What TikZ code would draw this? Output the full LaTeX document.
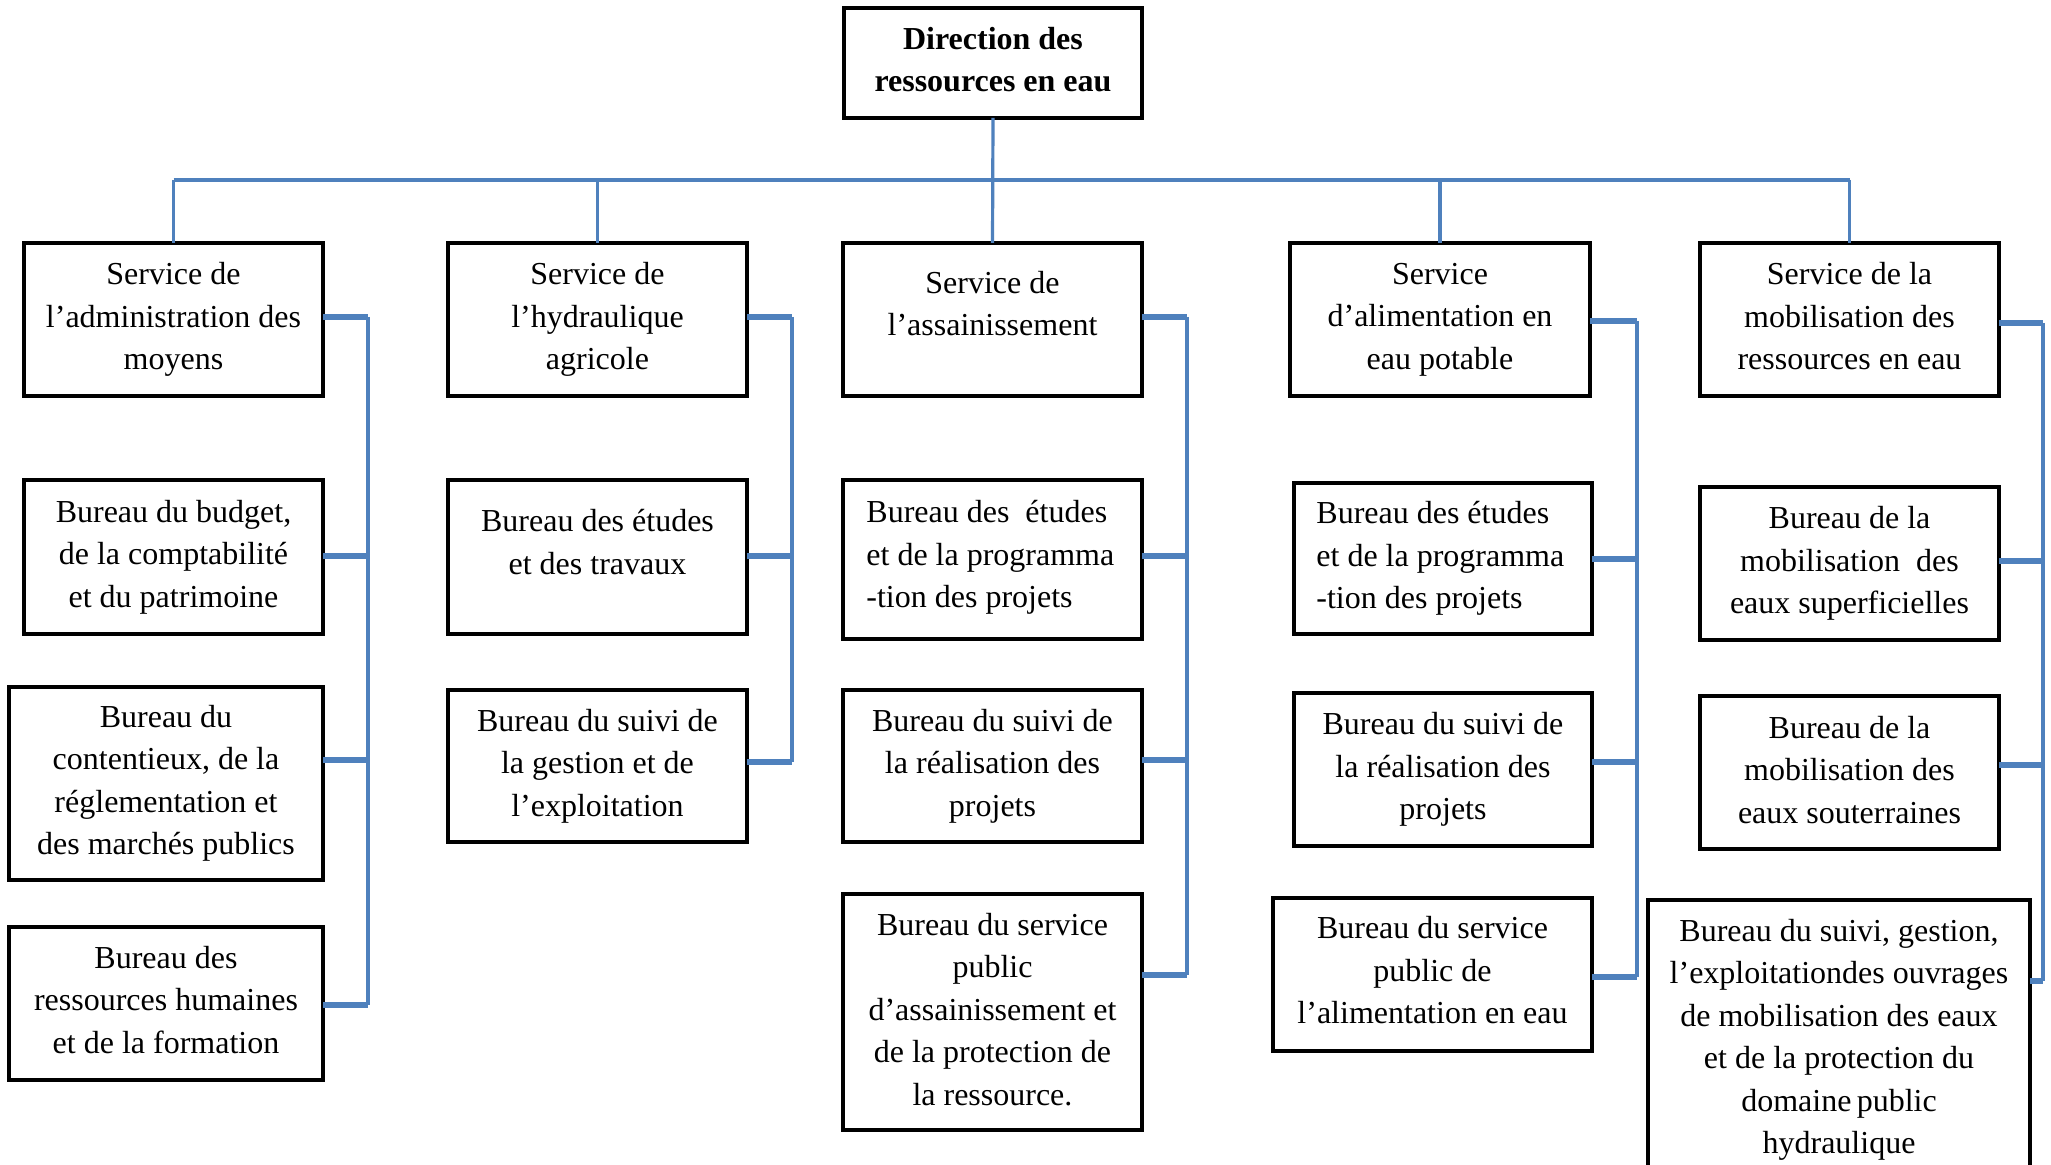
\documentclass[tikz,border=0pt]{standalone}
\usepackage{fontspec}
\setmainfont{Liberation Serif}
\definecolor{lineblue}{RGB}{79,129,189}
\newcommand{\orgbox}[5]{\node[obox, minimum width={((#4)-(#2))*0.5pt}, minimum height={((#5)-(#3))*0.5pt}] (#1) at ({((#2)+(#4))/2},{((#3)+(#5))/2}) {};}
\tikzset{
  obox/.style={draw=black, line width=1.9pt, rectangle, inner sep=0pt, outer sep=0pt},
  otext/.style={align=center, inner sep=0pt, font=\fontsize{16pt}{21.25pt}\selectfont},
  bus/.style={draw=lineblue, line width=1.6pt},
  stub/.style={draw=lineblue, line width=2.6pt},
}
\begin{document}
\begin{tikzpicture}[x=0.5pt,y=-0.5pt]
\useasboundingbox (0,0) rectangle (2051,1165);
\fill[white] (0,0) rectangle (2051,1165);
\clip (0,0) rectangle (2051,1165);
% boxes
\orgbox{top}{844}{8}{1142}{118}
\orgbox{s1}{24}{243}{323}{396}
\orgbox{s2}{448}{243}{747}{396}
\orgbox{s3}{843}{243}{1142}{396}
\orgbox{s4}{1290}{243}{1590}{396}
\orgbox{s5}{1700}{243}{1999}{396}
\orgbox{a1}{24}{480}{323}{634}
\orgbox{a2}{9}{687}{323}{880}
\orgbox{a3}{9}{927}{323}{1080}
\orgbox{b1}{448}{480}{747}{634}
\orgbox{b2}{448}{690}{747}{842}
\orgbox{c1}{843}{480}{1142}{639}
\orgbox{c2}{843}{690}{1142}{842}
\orgbox{c3}{843}{894}{1142}{1130}
\orgbox{d1}{1294}{483}{1592}{634}
\orgbox{d2}{1294}{693}{1592}{846}
\orgbox{d3}{1273}{898}{1592}{1051}
\orgbox{e1}{1700}{487}{1999}{640}
\orgbox{e2}{1700}{696}{1999}{849}
\orgbox{e3}{1648}{900}{2030}{1210}
% texts
\node[otext, font=\fontsize{16pt}{21pt}\selectfont\bfseries, yshift=1.5pt] (topt) at (top) {Direction des\\ressources en eau};
\node[otext] (s1t) at (s1) {Service de\\l’administration des\\moyens};
\node[otext] (s2t) at (s2) {Service de\\l’hydraulique\\agricole};
\node[otext, yshift=8pt] (s3t) at (s3) {Service de\\l’assainissement};
\node[otext] (s4t) at (s4) {Service\\d’alimentation en\\eau potable};
\node[otext, yshift=1.5pt] (s5t) at (s5) {Service de la\\mobilisation des\\ressources en eau};
\node[otext] (a1t) at (a1) {Bureau du budget,\\de la comptabilité\\et du patrimoine};
\node[otext] (a2t) at (a2) {Bureau du\\contentieux, de la\\réglementation et\\des marchés publics};
\node[otext, yshift=1.8pt] (a3t) at (a3) {Bureau des\\ressources humaines\\et de la formation};
\node[otext, yshift=7.5pt] (b1t) at (b1) {Bureau des études\\et des travaux};
\node[otext] (b2t) at (b2) {Bureau du suivi de\\la gestion et de\\l’exploitation};
\node[otext, align=left, anchor=west, yshift=1pt] (c1t) at ([xshift=11.5pt]c1.west) {Bureau des\ \ études\\et de la programma\\-tion des projets};
\node[otext] (c2t) at (c2) {Bureau du suivi de\\la réalisation des\\projets};
\node[otext, yshift=1.2pt] (c3t) at (c3) {Bureau du service\\public\\d’assainissement et\\de la protection de\\la ressource.};
\node[otext, align=left, anchor=west] (d1t) at ([xshift=11pt]d1.west) {Bureau des études\\et de la programma\\-tion des projets};
\node[otext] (d2t) at (d2) {Bureau du suivi de\\la réalisation des\\projets};
\node[otext, yshift=2pt] (d3t) at (d3) {Bureau du service\\public de\\l’alimentation en eau};
\node[otext] (e1t) at (e1) {Bureau de la\\mobilisation\ \ des\\eaux superficielles};
\node[otext, yshift=1.4pt] (e2t) at (e2) {Bureau de la\\mobilisation des\\eaux souterraines};
\node[otext] (e3t) at ([yshift=-70pt]e3.north) {Bureau du suivi, gestion,\\l’exploitationdes ouvrages\\de mobilisation des eaux\\et de la protection du\\domaine\,public\\hydraulique};
% top bus
\coordinate (hb) at (0,180);
\draw[bus] (top.south) -- (s3.north);
\draw[bus, line width=2pt] (s1.north |- hb) -- (s5.north |- hb);
\foreach \n in {s1,s2,s4,s5} \draw[bus] (\n.north |- hb) -- (\n.north);
% column 1
\coordinate (v1a) at (368,317); \coordinate (v1b) at (368,556);
\coordinate (v1c) at (368,760); \coordinate (v1d) at (368,1005);
\draw[bus] (v1a) -- (v1d);
\draw[stub] (s1.east |- v1a) -- (v1a);
\draw[stub] (a1.east |- v1b) -- (v1b);
\draw[stub] (a2.east |- v1c) -- (v1c);
\draw[stub] (a3.east |- v1d) -- (v1d);
% column 2
\coordinate (v2a) at (792,317); \coordinate (v2b) at (792,556);
\coordinate (v2c) at (792,762);
\draw[bus] (v2a) -- (v2c);
\draw[stub] (s2.east |- v2a) -- (v2a);
\draw[stub] (b1.east |- v2b) -- (v2b);
\draw[stub] (b2.east |- v2c) -- (v2c);
% column 3
\coordinate (v3a) at (1187,317); \coordinate (v3b) at (1187,556);
\coordinate (v3c) at (1187,760); \coordinate (v3d) at (1187,975);
\draw[bus] (v3a) -- (v3d);
\draw[stub] (s3.east |- v3a) -- (v3a);
\draw[stub] (c1.east |- v3b) -- (v3b);
\draw[stub] (c2.east |- v3c) -- (v3c);
\draw[stub] (c3.east |- v3d) -- (v3d);
% column 4
\coordinate (v4a) at (1637,321); \coordinate (v4b) at (1637,559);
\coordinate (v4c) at (1637,762); \coordinate (v4d) at (1637,977);
\draw[bus] (v4a) -- (v4d);
\draw[stub] (s4.east |- v4a) -- (v4a);
\draw[stub] (d1.east |- v4b) -- (v4b);
\draw[stub] (d2.east |- v4c) -- (v4c);
\draw[stub] (d3.east |- v4d) -- (v4d);
% column 5
\coordinate (v5a) at (2043,323); \coordinate (v5b) at (2043,561);
\coordinate (v5c) at (2043,765); \coordinate (v5d) at (2043,981);
\draw[bus] (v5a) -- (v5d);
\draw[stub] (s5.east |- v5a) -- (v5a);
\draw[stub] (e1.east |- v5b) -- (v5b);
\draw[stub] (e2.east |- v5c) -- (v5c);
\draw[stub] (e3.east |- v5d) -- (v5d);
\end{tikzpicture}
\end{document}
